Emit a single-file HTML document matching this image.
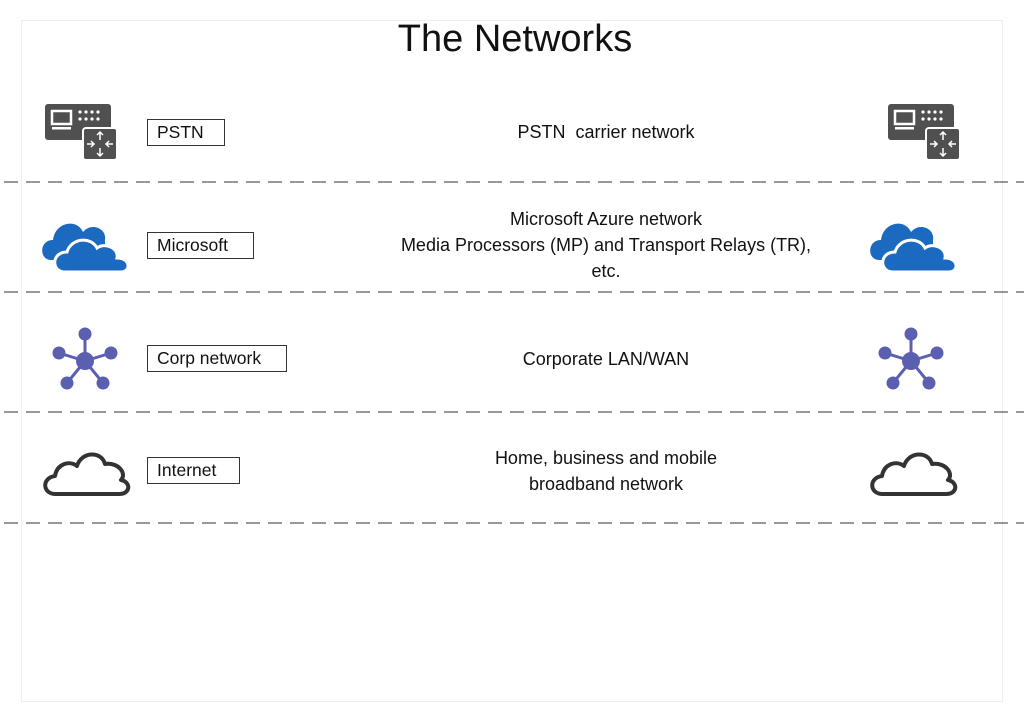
<!DOCTYPE html>
<html><head><style>
body{margin:0;width:1024px;height:721px;background:#fff;position:relative;overflow:hidden;font-family:"Liberation Sans",sans-serif;color:#111}
.t{position:absolute;white-space:nowrap}
.box{position:absolute;border:1.3px solid #333;font-size:17.5px;line-height:24px;padding:0 9px;box-sizing:border-box;height:27px}
.c{position:absolute;left:386px;width:440px;text-align:center;font-size:18px;line-height:26px}
</style></head><body>
<div style="position:absolute;left:21px;top:20px;width:980px;height:680px;border:1px solid #eee"></div>
<div class="t" style="left:0;width:1030px;text-align:center;top:18px;font-size:38px">The Networks</div>
<svg width="1024" height="721" style="position:absolute;left:0;top:0">
<defs>
<g id="pstn"><rect x="0" y="0" width="66" height="36" rx="3" fill="#505050"/><rect x="7" y="7" width="19" height="13" fill="none" stroke="#fff" stroke-width="2.5"/><rect x="7" y="23" width="19" height="2.5" fill="#fff"/>
<g fill="#fff"><circle cx="35" cy="8" r="1.6"/><circle cx="41" cy="8" r="1.6"/><circle cx="47" cy="8" r="1.6"/><circle cx="53" cy="8" r="1.6"/><circle cx="35" cy="15" r="1.6"/><circle cx="41" cy="15" r="1.6"/><circle cx="47" cy="15" r="1.6"/><circle cx="53" cy="15" r="1.6"/></g>
<rect x="38" y="24" width="34" height="32" rx="3" fill="#505050" stroke="#fff" stroke-width="2"/>
<g stroke="#fff" stroke-width="1.5" fill="none"><path d="M55 28v8M52 31l3-3 3 3M55 52v-8M52 49l3 3 3-3M42 40h7M46 37l3 3-3 3M68 40h-7M64 37l-3 3 3 3"/></g></g>
<g id="ms"><path d="M10 44 C-2 44 -2 24 12 24 C14 6 36 2 42 16 C50 6 66 12 64 24 L64 44Z" fill="#1b6ac0"/><path d="M24 56 C10 56 10 36 26 36 C30 22 50 20 56 32 C64 26 78 32 76 42 C90 42 90 56 80 56Z" fill="#1b6ac0" stroke="#fff" stroke-width="3"/></g>
<g id="corp" fill="#5b5fb0" stroke="#5b5fb0"><g stroke-width="3"><line x1="0" y1="0" x2="0" y2="-27"/><line x1="0" y1="0" x2="-26" y2="-8"/><line x1="0" y1="0" x2="26" y2="-8"/><line x1="0" y1="0" x2="-18" y2="22"/><line x1="0" y1="0" x2="18" y2="22"/></g><circle r="8.5"/><circle cy="-27" r="6"/><circle cx="-26" cy="-8" r="6"/><circle cx="26" cy="-8" r="6"/><circle cx="-18" cy="22" r="6"/><circle cx="18" cy="22" r="6"/></g>
<g id="inet"><path d="M14 46 C2 46 0 30 14 28 C16 16 28 12 36 18 C40 4 60 2 64 16 C78 14 86 26 80 32 C90 34 90 46 78 46Z" fill="none" stroke="#333" stroke-width="4" stroke-linejoin="round"/></g>
</defs>
<use href="#pstn" x="45" y="104"/><use href="#pstn" x="888" y="104"/>
<use href="#ms" x="41" y="216"/><use href="#ms" x="869" y="216"/>
<use href="#corp" x="85" y="361"/><use href="#corp" x="911" y="361"/>
<use href="#inet" x="41" y="448"/><use href="#inet" x="868" y="448"/>
<g stroke="#777" stroke-width="1.5" stroke-dasharray="14 8"><line x1="4" y1="182" x2="1024" y2="182"/><line x1="4" y1="292" x2="1024" y2="292"/><line x1="4" y1="412" x2="1024" y2="412"/><line x1="4" y1="523" x2="1024" y2="523"/></g>
</svg>
<div class="box" style="left:147px;top:119px;width:78px">PSTN</div>
<div class="box" style="left:147px;top:232px;width:107px">Microsoft</div>
<div class="box" style="left:147px;top:345px;width:140px">Corp network</div>
<div class="box" style="left:147px;top:457px;width:93px">Internet</div>
<div class="c" style="top:119px">PSTN&nbsp; carrier network</div>
<div class="c" style="top:206px">Microsoft Azure network<br>Media Processors (MP) and Transport Relays (TR),<br>etc.</div>
<div class="c" style="top:346px">Corporate LAN/WAN</div>
<div class="c" style="top:445px">Home, business and mobile<br>broadband network</div>
</body></html>
